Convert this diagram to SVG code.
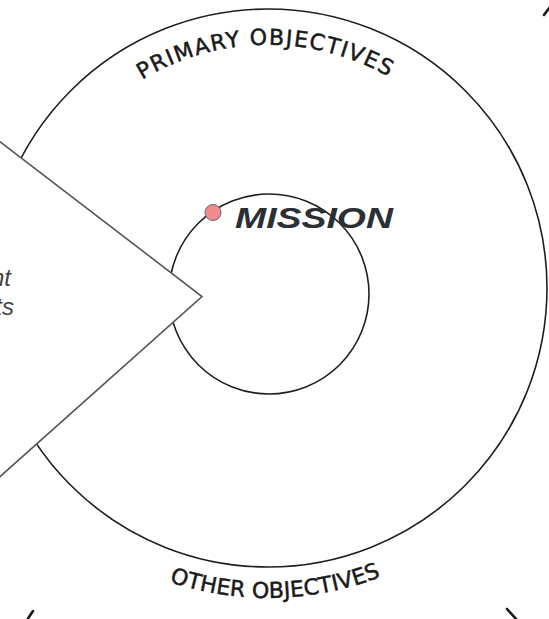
<svg xmlns="http://www.w3.org/2000/svg" width="549" height="619" viewBox="0 0 549 619">
  <style>
    .ring { fill: none; stroke: #1e1e1e; stroke-width: 1.6; }
    .arc-label { font-family: "DejaVu Sans", "Liberation Sans", sans-serif; font-size: 22px; fill: #1a1a1a; stroke: #1a1a1a; stroke-width: 0.5; }
    .mission { font-family: "Liberation Sans", "DejaVu Sans", sans-serif; font-size: 29px; font-weight: bold; font-style: italic; fill: #2b3035; }
    .wedge { fill: #ffffff; stroke: #555555; stroke-width: 1.6; stroke-linejoin: miter; }
    .wedge-text { font-family: "Liberation Sans", "Arial", sans-serif; font-size: 24px; font-style: italic; fill: #444444; }
    .frag { stroke: #1a1a1a; stroke-width: 2.6; stroke-linecap: round; fill: none; }
  </style>
  <defs>
    <path id="topArc" d="M 111.2 101.9 A 244 244 0 0 1 424.8 101.9"/>
    <path id="bottomArc" d="M 90.2 541.9 A 310 310 0 0 0 445.8 541.9"/>
  </defs>
  <rect width="549" height="619" fill="#ffffff"/>

  <g id="outer-objectives">
    <circle class="ring" cx="268" cy="288" r="279"/>
    <text class="arc-label" id="primary-label"><textPath href="#topArc" startOffset="49%" text-anchor="middle" textLength="258" lengthAdjust="spacing">PRIMARY OBJECTIVES</textPath></text>
    <text class="arc-label" id="other-label"><textPath href="#bottomArc" startOffset="52%" text-anchor="middle" textLength="216" lengthAdjust="spacing">OTHER OBJECTIVES</textPath></text>
  </g>

  <g id="mission">
    <circle class="ring" cx="269" cy="294" r="100"/>
    <circle cx="213" cy="212.5" r="8" fill="#f28b8b" stroke="#666" stroke-width="1"/>
    <text class="mission" x="235" y="228" textLength="158" lengthAdjust="spacingAndGlyphs">MISSION</text>
  </g>

  <g id="wedge">
    <polygon class="wedge" points="-10,134 202,296.5 -10,485.6"/>
    <text class="wedge-text" text-anchor="end"><tspan x="11" y="286">nt</tspan><tspan x="14" y="315">ts</tspan></text>
  </g>

  <g id="connectors">
    <line class="frag" x1="544" y1="15" x2="550" y2="7"/>
    <line class="frag" x1="27" y1="620" x2="33" y2="611"/>
    <line class="frag" x1="507" y1="609" x2="517" y2="620"/>
  </g>
</svg>
